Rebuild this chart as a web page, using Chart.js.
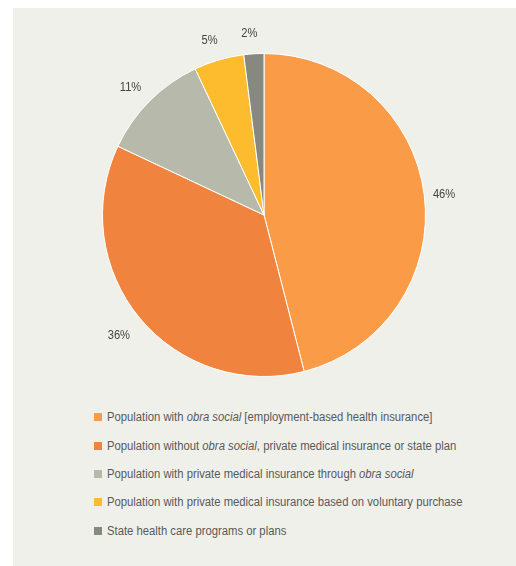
<!DOCTYPE html>
<html>
<head>
<meta charset="utf-8">
<script src="https://cdn.jsdelivr.net/npm/chart.js@4"></script>
<style>
  body { margin: 0; background: #fff; width: 516px; height: 566px; position: relative; overflow: hidden; }
  #panel { position: absolute; left: 13px; top: 8px; width: 503px; height: 558px; background: #f0f0eb; }
  #wrap { position: absolute; left: 0; top: 0; width: 516px; height: 400px; }
  #legend { position: absolute; left: 94px; top: 403px; font: 12px "Liberation Sans", Arial, sans-serif; color: #595959; }
  #legend div { height: 28.4px; display: flex; align-items: center; white-space: nowrap; }
  #legend span.box { display: inline-block; width: 8px; height: 8px; margin-right: 5px; }
  #legend span.txt { display: inline-block; transform: scaleX(0.94); transform-origin: left center; }
</style>
</head>
<body>
<div id="panel"></div>
<div id="wrap"><canvas id="pieChart" width="516" height="400"></canvas></div>
<div id="legend"></div>

<script>
// Données
const labels = [
    "Population with obra social [employment-based health insurance]",
    "Population without obra social, private medical insurance or state plan",
    "Population with private medical insurance through obra social",
    "Population with private medical insurance based on voluntary purchase",
    "State health care programs or plans"
];
const values = [46, 36, 11, 5, 2];
const colors = ["#f99b47", "#f0843e", "#b7b9aa", "#fdbb2e", "#868a7e"];
const italicTerm = "obra social";

// Étiquettes de pourcentage à l'extérieur
const outsideLabels = {
    id: "outsideLabels",
    afterDatasetsDraw(chart) {
        const ctx = chart.ctx;
        const meta = chart.getDatasetMeta(0);
        meta.data.forEach((arc, i) => {
            const mid = (arc.startAngle + arc.endAngle) / 2;
            const r = arc.outerRadius + 23;
            ctx.save();
            // petit décalage vers le bas/gauche comme dans l'original
            ctx.translate(arc.x + Math.cos(mid) * r - 3, arc.y + Math.sin(mid) * r + 3);
            ctx.scale(0.93, 1);
            ctx.font = "12px 'Liberation Sans', Arial, sans-serif";
            ctx.fillStyle = "#444";
            ctx.textAlign = "center";
            ctx.textBaseline = "middle";
            ctx.fillText(values[i] + "%", 0, 0);
            ctx.restore();
        });
    }
};

new Chart(document.getElementById("pieChart"), {
    type: "pie",
    data: {
        labels: labels,
        datasets: [{
            data: values,
            backgroundColor: colors,
            borderColor: "#ffffff",
            borderWidth: 1
        }]
    },
    options: {
        responsive: false,
        animation: false,
        layout: { padding: { left: 102, right: 90, top: 53, bottom: 23 } },
        plugins: {
            legend: { display: false },
            tooltip: { enabled: false }
        }
    },
    plugins: [outsideLabels]
});

// Légende HTML (avec italique)
const legend = document.getElementById("legend");
labels.forEach((txt, i) => {
    const row = document.createElement("div");
    const box = document.createElement("span");
    box.className = "box";
    box.style.background = colors[i];
    row.appendChild(box);
    const text = document.createElement("span");
    text.className = "txt";
    text.innerHTML = txt.split(italicTerm).join("<i>" + italicTerm + "</i>");
    row.appendChild(text);
    legend.appendChild(row);
});
</script>
</body>
</html>
